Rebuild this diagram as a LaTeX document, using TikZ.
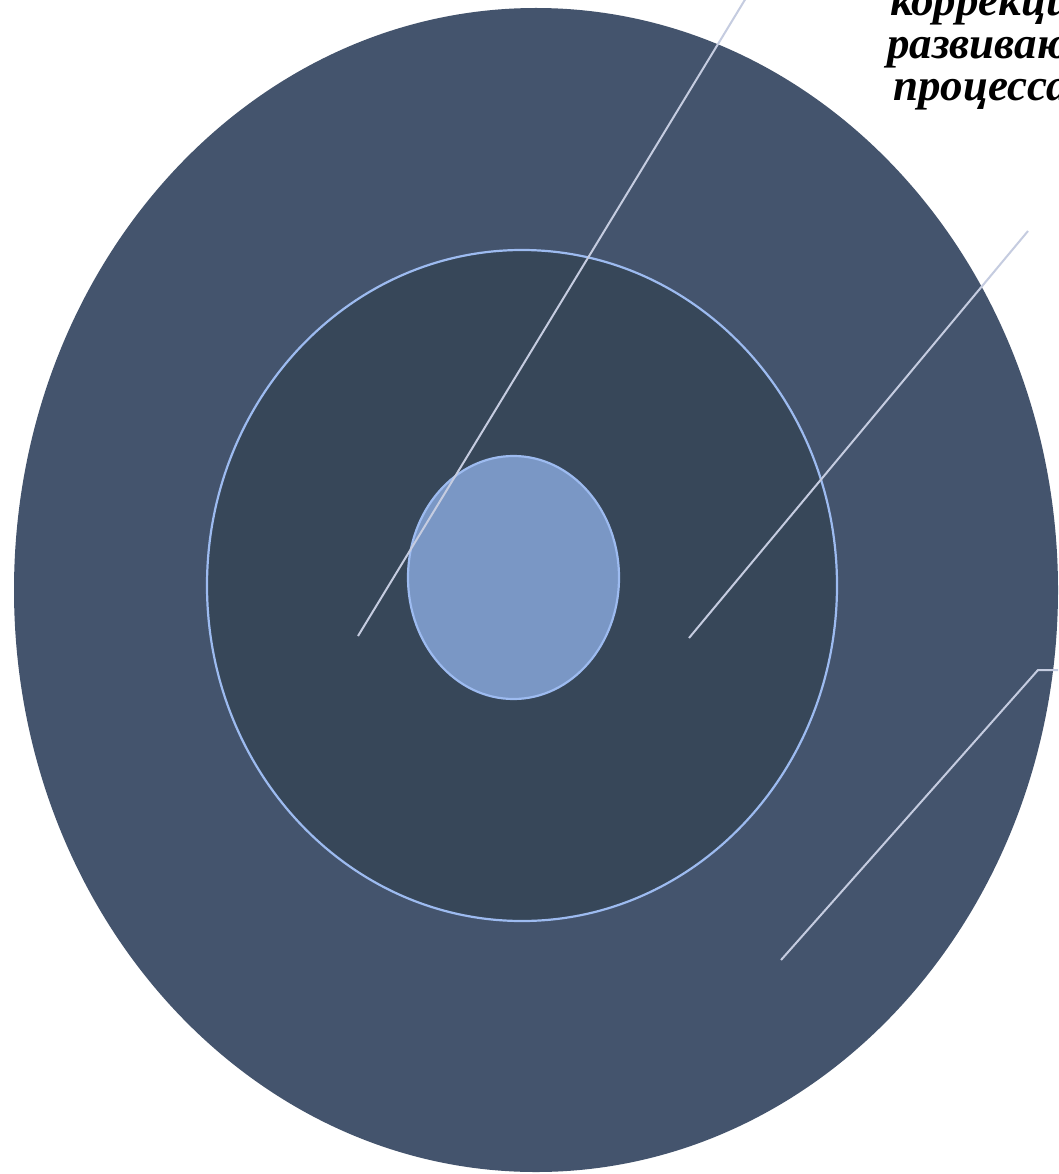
\documentclass[tikz,border=0pt]{standalone}
\usepackage{fontspec}
\setmainfont{Liberation Serif}
\definecolor{outerc}{HTML}{44546D}
\definecolor{midc}{HTML}{374759}
\definecolor{innerc}{HTML}{7A97C5}
\definecolor{ringc}{HTML}{9DBBF0}
\definecolor{leaderc}{HTML}{C5CCE0}
\tikzset{
  ring/.style={draw=ringc, line width=2.2pt},
  leader/.style={draw=leaderc, line width=2pt},
  lbl/.style={anchor=base west, inner sep=0pt, text=black,
    font=\fontsize{45}{45}\selectfont\bfseries\itshape}
}
\begin{document}
\begin{tikzpicture}[x=1pt,y=-1pt]
\useasboundingbox (0,0) rectangle (1058,1174);
\clip (0,0) rectangle (1058,1174);
\fill[white] (0,0) rectangle (1058,1174);
% outer ellipse
\fill[outerc] (536,590) ellipse [x radius=522, y radius=582];
% middle ellipse
\fill[midc] (522,585.5) ellipse [x radius=315, y radius=335.5];
\draw[ring] (522,585.5) ellipse [x radius=315, y radius=335.5];
% inner ellipse
\fill[innerc] (513.5,577.5) ellipse [x radius=105.5, y radius=121.5];
\draw[ring] (513.5,577.5) ellipse [x radius=105.5, y radius=121.5];
% label texts (cut by the picture's edge, as in the reference)
\node[lbl] (t1) at (890,16) {коррекционно-};
\node[lbl] (t2) at (887,59) {развивающего};
\node[lbl] (t3) at (893,101) {процесса};
% leader lines
\coordinate (a1) at (358,636);
\coordinate (b1) at (746,-2);
\coordinate (a2) at (689,638);
\coordinate (b2) at (1028,231);
\coordinate (a3) at (781,960);
\coordinate (k3) at (1038,670);
\coordinate (b3) at (1062,670);
\draw[leader] (a1) -- (b1);
\draw[leader] (a2) -- (b2);
\draw[leader] (a3) -- (k3) -- (b3);
\end{tikzpicture}
\end{document}
